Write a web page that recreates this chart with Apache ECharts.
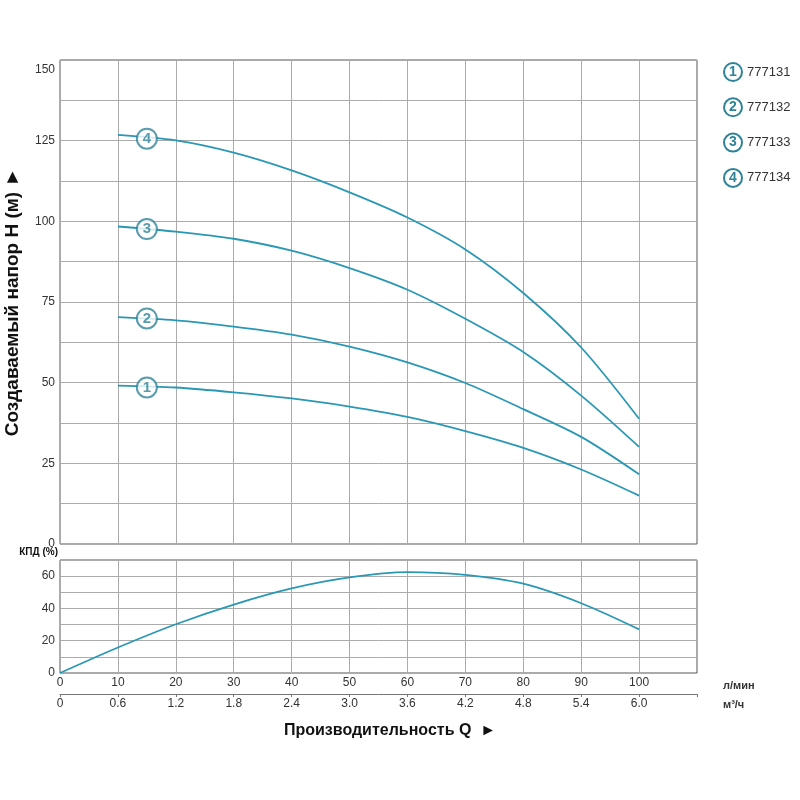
<!DOCTYPE html>
<html><head><meta charset="utf-8">
<script src="https://cdn.jsdelivr.net/npm/echarts@6/dist/echarts.min.js"></script>
<style>html,body{margin:0;padding:0;background:#fff}#c{width:800px;height:800px}</style>
</head><body><div id="c"></div>
<script>
// ---- data ----
const flowLpm = [10, 20, 30, 40, 50, 60, 70, 80, 90, 100];
const head777131 = [49.1, 48.5, 47.0, 45.1, 42.6, 39.4, 35.0, 29.8, 23.1, 15.0];
const head777132 = [70.3, 69.3, 67.4, 64.9, 61.2, 56.3, 49.9, 41.8, 33.2, 21.6];
const head777133 = [98.4, 96.8, 94.6, 90.9, 85.5, 78.8, 69.8, 59.5, 46.0, 30.1];
const head777134 = [126.8, 125.1, 121.3, 115.8, 109.0, 101.2, 91.3, 77.8, 60.9, 38.8];
const models = ['777131', '777132', '777133', '777134'];
const curveTagFlow = 15;
const curveTagHead = [48.5, 69.9, 97.6, 125.6];
const effFlow = [0, 10, 20, 30, 40, 50, 60, 70, 80, 90, 100];
const efficiency = [0, 15.8, 30.2, 42.4, 52.4, 59.2, 62.5, 60.8, 55.3, 43.2, 27.0];
const flowTicksM3 = [0, 0.6, 1.2, 1.8, 2.4, 3.0, 3.6, 4.2, 4.8, 5.4, 6.0];

const heads = [head777131, head777132, head777133, head777134];
const LINE = '#2a98b4';
const TAG = '#2e8398';
const FONT = 'Liberation Sans, Arial, sans-serif';
const GRID = '#ababab';

const chart = echarts.init(document.getElementById('c'), null, {renderer: 'canvas'});

const series = [];
heads.forEach((h, i) => {
  series.push({
    type: 'line', xAxisIndex: 0, yAxisIndex: 0, smooth: 0.3, showSymbol: false,
    lineStyle: {color: LINE, width: 1.8}, z: 3,
    data: flowLpm.map((q, k) => [q, h[k]])
  });
});
series.push({
  type: 'scatter', xAxisIndex: 0, yAxisIndex: 0, symbol: 'circle', symbolSize: 20, z: 5,
  itemStyle: {color: '#fff', borderColor: TAG, borderWidth: 2},
  label: {show: true, position: 'inside', color: TAG, fontWeight: 'bold', fontSize: 15, fontFamily: FONT,
    formatter: p => String(p.dataIndex + 1)},
  data: curveTagHead.map(v => [curveTagFlow, v])
});
series.push({
  type: 'line', xAxisIndex: 1, yAxisIndex: 1, smooth: 0.3, showSymbol: false,
  lineStyle: {color: LINE, width: 1.8},
  data: effFlow.map((q, k) => [q, efficiency[k]])
});

const graphic = [];
models.forEach((m, i) => {
  const cy = 72 + i * 35.3;
  graphic.push({type: 'circle', shape: {cx: 733, cy: cy, r: 9}, style: {fill: '#fff', stroke: TAG, lineWidth: 2}});
  graphic.push({type: 'text', x: 733, y: cy, style: {text: String(i + 1), fill: TAG, font: 'bold 14px ' + FONT, textAlign: 'center', textVerticalAlign: 'middle'}});
  graphic.push({type: 'text', x: 747, y: cy, style: {text: m, fill: '#333', font: '13px ' + FONT, textAlign: 'left', textVerticalAlign: 'middle'}});
});
graphic.push({type: 'text', x: 723, y: 686, style: {text: 'л/мин', fill: '#333', font: 'bold 11px ' + FONT, textVerticalAlign: 'middle'}});
graphic.push({type: 'text', x: 723, y: 705, style: {text: 'м³/ч', fill: '#333', font: 'bold 11px ' + FONT, textVerticalAlign: 'middle'}});
graphic.push({type: 'text', x: 390, y: 731, style: {text: 'Производительность Q  ►', fill: '#111', font: 'bold 16px ' + FONT, textAlign: 'center', textVerticalAlign: 'middle'}});

const option = {
  animation: false,
  backgroundColor: '#fff',
  textStyle: {fontFamily: FONT},
  grid: [
    {left: 60, top: 60, width: 637, height: 484, show: true, borderColor: '#555', borderWidth: 1, backgroundColor: 'transparent', containLabel: false, outerBoundsMode: 'none'},
    {left: 60, top: 560, width: 637, height: 113, show: true, borderColor: '#555', borderWidth: 1, backgroundColor: 'transparent', containLabel: false, outerBoundsMode: 'none'}
  ],
  xAxis: [
    {type: 'value', gridIndex: 0, min: 0, max: 110, interval: 10,
      axisLine: {show: false}, axisTick: {show: false}, axisLabel: {show: false},
      splitLine: {show: true, lineStyle: {color: GRID, width: 1}}},
    {type: 'value', gridIndex: 1, min: 0, max: 110, interval: 10,
      axisLine: {show: false}, axisTick: {show: false},
      axisLabel: {show: true, color: '#333', fontSize: 12, margin: 4, showMaxLabel: false, fontFamily: FONT},
      splitLine: {show: true, lineStyle: {color: GRID, width: 1}}},
    {type: 'value', gridIndex: 1, position: 'bottom', offset: 21, min: 0, max: 6.6, interval: 0.6,
      axisLine: {show: true, lineStyle: {color: '#777', width: 1}},
      axisTick: {show: true, length: 3, lineStyle: {color: '#777'}},
      axisLabel: {show: true, color: '#333', fontSize: 12, margin: 4, fontFamily: FONT,
        formatter: v => { const t = flowTicksM3.find(x => Math.abs(x - v) < 1e-6); return t === undefined ? '' : t.toFixed(1).replace(/^0\.0$/, '0'); }},
      splitLine: {show: false}}
  ],
  yAxis: [
    {type: 'value', gridIndex: 0, min: 0, max: 150, interval: 12.5,
      axisLine: {show: false}, axisTick: {show: false},
      axisLabel: {color: '#333', fontSize: 12, margin: 5, fontFamily: FONT,
        formatter: v => (v % 25 === 0 ? (v === 150 ? '{t|150}' : String(v)) : ''),
        rich: {t: {fontSize: 12, color: '#333', padding: [20, 0, 0, 0], fontFamily: FONT}}},
      splitLine: {show: true, lineStyle: {color: GRID, width: 1}},
      name: 'Создаваемый напор Н (м) ►', nameLocation: 'middle', nameGap: 38, nameRotate: 90,
      nameTextStyle: {fontSize: 19, fontWeight: 'bold', color: '#111', fontFamily: FONT}},
    {type: 'value', gridIndex: 1, min: 0, max: 70, interval: 10,
      axisLine: {show: false}, axisTick: {show: false},
      axisLabel: {color: '#333', fontSize: 12, margin: 5, fontFamily: FONT,
        formatter: v => (v % 20 === 0 ? String(v) : '')},
      splitLine: {show: true, lineStyle: {color: GRID, width: 1}},
      name: 'КПД (%)', nameLocation: 'end', nameGap: 3,
      nameTextStyle: {fontSize: 10, fontWeight: 'bold', color: '#111', align: 'right', verticalAlign: 'bottom', padding: [0, 2, 0, 0], fontFamily: FONT}}
  ],
  series: series,
  graphic: graphic
};
chart.setOption(option);
</script>
</body></html>
